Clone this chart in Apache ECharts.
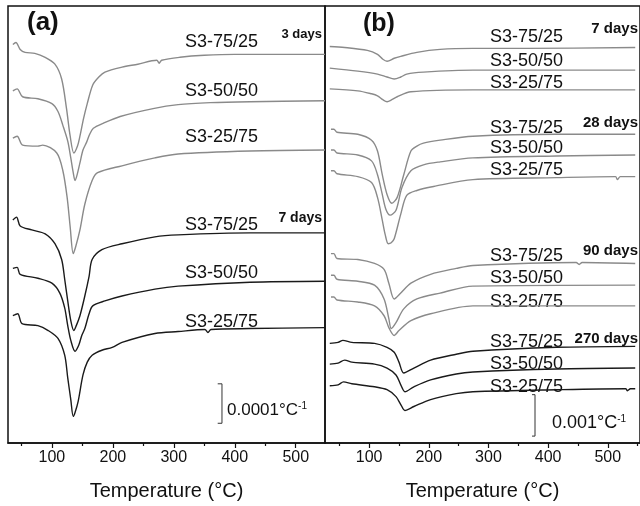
<!DOCTYPE html>
<html>
<head>
<meta charset="utf-8">
<script src="https://cdn.jsdelivr.net/npm/echarts@6/dist/echarts.min.js"></script>
<style>
  html, body { margin: 0; padding: 0; background: #fff; }
  #main { width: 640px; height: 506px; }
</style>
</head>
<body>
<div id="main"></div>
<script>
// tick values (deg C)
var majorTicks = [100, 200, 300, 400, 500];
var minorTicks = [50, 150, 250, 350, 450, 550];

// panel (a): offset curves, [temperature, signal (arb. units, stacked)]
var a3d_7525 = [[36,404],[41,406],[48,399],[56,396],[72,395],[89,391],[105,384],[116,369],[124,339],[130,311],[136,294],[142,301],[146,311],[152,329],[158,344],[167,363],[177,371],[187,376],[215,381],[241,384],[272,388],[276,385],[280,388],[310,391],[350,393],[400,394],[450,394],[548,394]];
var a3d_5050 = [[36,357],[43,359],[52,351],[77,349],[100,344],[110,336],[118,322],[126,306],[131,289],[135,274],[138,266],[141,271],[146,284],[151,297],[157,305],[162,313],[168,319],[184,324],[212,331],[266,339],[307,343],[360,345],[425,346],[548,347]];
var a3d_2575 = [[36,309],[43,311],[52,302],[77,301],[85,302],[108,294],[118,276],[125,249],[130,219],[135,192],[139,199],[146,216],[154,242],[166,266],[175,274],[215,281],[269,289],[307,293],[425,296],[548,297]];
var a7d_7525 = [[36,226],[42,229],[48,220],[67,216],[89,212],[105,202],[116,186],[121,166],[126,144],[131,124],[136,114],[140,119],[146,129],[154,149],[161,169],[166,186],[182,196],[215,202],[269,209],[307,211],[425,213],[548,213]];
var a7d_5050 = [[36,177],[43,178],[48,171],[77,167],[100,162],[113,152],[121,137],[126,119],[131,104],[138,93],[144,99],[149,109],[154,116],[161,131],[167,139],[187,144],[215,149],[269,156],[307,159],[425,163],[548,164]];
var a7d_2575 = [[36,129],[44,131],[51,121],[77,119],[94,114],[110,106],[121,89],[126,66],[131,44],[135,27],[138,31],[143,42],[151,69],[158,82],[166,89],[182,94],[199,97],[215,102],[269,111],[307,113],[351,115],[356,112],[361,115],[425,116],[548,117]];

// panel (b)
var b7d_7525 = [[34,402],[59,401],[97,398],[114,394],[123,389],[130,387],[142,390],[153,392],[180,396],[219,399],[274,400],[364,400],[546,401]];
var b7d_5050 = [[34,380],[81,377],[114,374],[130,371],[142,369],[153,371],[163,374],[191,376],[274,378],[546,378]];
var b7d_2575 = [[34,359],[81,357],[104,354],[114,352],[123,348],[130,346],[138,348],[147,351],[170,356],[274,358],[546,358]];
var b28d_7525 = [[36,318],[41,318],[46,315],[81,313],[104,307],[114,296],[122,272],[130,252],[138,243],[147,249],[158,272],[170,296],[180,301],[191,304],[219,307],[274,311],[414,313],[546,313]];
var b28d_5050 = [[36,297],[41,297],[46,294],[81,292],[104,286],[114,272],[122,252],[128,237],[135,231],[145,236],[155,259],[170,276],[191,282],[219,285],[274,289],[414,291],[546,292]];
var b28d_2575 = [[36,276],[41,276],[46,273],[81,270],[104,264],[114,249],[122,226],[127,211],[132,202],[137,203],[142,207],[153,232],[163,251],[180,256],[208,260],[274,267],[414,269],[513,270],[516,267],[521,270],[546,270]];
var b90d_7525 = [[36,192],[41,192],[46,187],[81,186],[109,182],[125,176],[133,162],[142,146],[153,152],[170,162],[203,171],[246,177],[274,180],[447,183],[452,181],[457,183],[546,182]];
var b90d_5050 = [[36,170],[41,170],[46,166],[81,164],[109,160],[125,146],[133,126],[137,116],[145,122],[158,136],[180,146],[219,152],[274,159],[546,160]];
var b90d_2575 = [[36,148],[41,148],[46,145],[81,143],[109,139],[125,129],[133,117],[142,109],[150,114],[170,124],[203,131],[274,139],[546,139]];
var b270d_7525 = [[34,101],[48,102],[56,104],[71,102],[109,101],[130,97],[142,92],[150,82],[158,71],[175,76],[203,84],[246,90],[274,93],[414,97],[546,98]];
var b270d_5050 = [[34,80],[48,81],[59,84],[71,82],[109,80],[130,76],[145,69],[153,59],[160,52],[175,57],[203,64],[246,70],[274,72],[414,75],[546,76]];
var b270d_2575 = [[34,58],[48,59],[57,62],[71,60],[109,57],[130,54],[145,47],[153,39],[160,33],[175,37],[203,44],[246,50],[274,52],[414,54],[530,55],[533,53],[538,55],[546,55]];

// scale bars (same data units)
var scaleBarA = [[372,60],[379,60],[379,20],[372,20]];
var scaleBarB = [[373,49],[378,49],[378,7],[373,7]];

var GRAY = '#8a8a8a', BLACK = '#1a1a1a';
var FONT = "'Liberation Sans', Arial, sans-serif";

var curvesA = [
  { d: a3d_7525, c: GRAY }, { d: a3d_5050, c: GRAY }, { d: a3d_2575, c: GRAY },
  { d: a7d_7525, c: BLACK }, { d: a7d_5050, c: BLACK }, { d: a7d_2575, c: BLACK }
];
var curvesB = [
  { d: b7d_7525, c: GRAY }, { d: b7d_5050, c: GRAY }, { d: b7d_2575, c: GRAY },
  { d: b28d_7525, c: GRAY }, { d: b28d_5050, c: GRAY }, { d: b28d_2575, c: GRAY },
  { d: b90d_7525, c: GRAY }, { d: b90d_5050, c: GRAY }, { d: b90d_2575, c: GRAY },
  { d: b270d_7525, c: BLACK }, { d: b270d_5050, c: BLACK }, { d: b270d_2575, c: BLACK }
];

function xAxes(gridIndex, min, max) {
  return [{
    gridIndex: gridIndex, type: 'value', min: min, max: max,
    name: 'Temperature (°C)', nameLocation: 'middle', nameGap: 38,
    nameTextStyle: { fontFamily: FONT, fontSize: 20, color: '#111' },
    axisLine: { lineStyle: { color: '#111', width: 1.5 } },
    axisTick: { customValues: majorTicks, length: 5, lineStyle: { color: '#111', width: 1.2 } },
    axisLabel: { customValues: majorTicks, margin: 7, fontFamily: FONT, fontSize: 16, color: '#111' },
    splitLine: { show: false }
  }, {
    gridIndex: gridIndex, type: 'value', min: min, max: max, position: 'bottom',
    axisLine: { show: false },
    axisTick: { customValues: minorTicks, length: 3, lineStyle: { color: '#111', width: 1.2 } },
    axisLabel: { show: false },
    splitLine: { show: false }
  }];
}

var series = [];
curvesA.forEach(function(cv) {
  series.push({ type: 'line', xAxisIndex: 0, yAxisIndex: 0, data: cv.d, smooth: 0.3,
    showSymbol: false, lineStyle: { color: cv.c, width: 1.4 } });
});
curvesB.forEach(function(cv) {
  series.push({ type: 'line', xAxisIndex: 2, yAxisIndex: 1, data: cv.d, smooth: 0.3,
    showSymbol: false, lineStyle: { color: cv.c, width: 1.4 } });
});
series.push({ type: 'line', xAxisIndex: 0, yAxisIndex: 0, data: scaleBarA, showSymbol: false,
  lineStyle: { color: '#333', width: 1 } });
series.push({ type: 'line', xAxisIndex: 2, yAxisIndex: 1, data: scaleBarB, showSymbol: false,
  lineStyle: { color: '#333', width: 1 } });

function txt(x, y, s, size, bold, align) {
  return { type: 'text', x: x, y: y, style: { text: s, fontFamily: FONT, fontSize: size,
    fontWeight: bold ? 'bold' : 'normal', fill: '#111', align: align || 'left', verticalAlign: 'middle' } };
}

var graphics = [
  txt(27, 23, '(a)', 26, true), txt(363, 24, '(b)', 25, true),
  txt(185, 42, 'S3-75/25', 18), txt(322, 34, '3 days', 13, true, 'right'),
  txt(185, 91, 'S3-50/50', 18), txt(185, 137, 'S3-25/75', 18),
  txt(185, 225, 'S3-75/25', 18), txt(322, 218, '7 days', 14, true, 'right'),
  txt(185, 273, 'S3-50/50', 18), txt(185, 322, 'S3-25/75', 18),
  txt(490, 37, 'S3-75/25', 18), txt(638, 29, '7 days', 15, true, 'right'),
  txt(490, 61, 'S3-50/50', 18), txt(490, 83, 'S3-25/75', 18),
  txt(490, 128, 'S3-75/25', 18), txt(638, 123, '28 days', 15, true, 'right'),
  txt(490, 148, 'S3-50/50', 18), txt(490, 170, 'S3-25/75', 18),
  txt(490, 256, 'S3-75/25', 18), txt(638, 251, '90 days', 15, true, 'right'),
  txt(490, 278, 'S3-50/50', 18), txt(490, 302, 'S3-25/75', 18),
  txt(490, 342, 'S3-75/25', 18), txt(638, 339, '270 days', 15, true, 'right'),
  txt(490, 364, 'S3-50/50', 18), txt(490, 387, 'S3-25/75', 18),
  { type: 'text', x: 227, y: 410, style: { text: '{m|0.0001°C}{s|-1}', fontFamily: FONT,
    verticalAlign: 'middle', fill: '#111',
    rich: { m: { fontSize: 17, fontFamily: FONT, fill: '#111' },
            s: { fontSize: 10, fontFamily: FONT, fill: '#111', verticalAlign: 'top' } } } },
  { type: 'text', x: 552, y: 423, style: { text: '{m|0.001°C}{s|-1}', fontFamily: FONT,
    verticalAlign: 'middle', fill: '#111',
    rich: { m: { fontSize: 18, fontFamily: FONT, fill: '#111' },
            s: { fontSize: 10, fontFamily: FONT, fill: '#111', verticalAlign: 'top' } } } }
];

var myChart = echarts.init(document.getElementById('main'));
var option = {
  animation: false,
  backgroundColor: '#fff',
  grid: [
    { left: 8, top: 6, width: 317, height: 443, show: true, borderColor: '#111', borderWidth: 1.5 },
    { left: 325, top: 6, width: 320, height: 443, show: true, borderColor: '#111', borderWidth: 1.5 }
  ],
  xAxis: xAxes(0, 28, 548).concat(xAxes(1, 26, 554)),
  yAxis: [
    { gridIndex: 0, type: 'value', min: 0, max: 443, show: false },
    { gridIndex: 1, type: 'value', min: 0, max: 443, show: false }
  ],
  series: series,
  graphic: graphics
};
myChart.setOption(option);
</script>
</body>
</html>
